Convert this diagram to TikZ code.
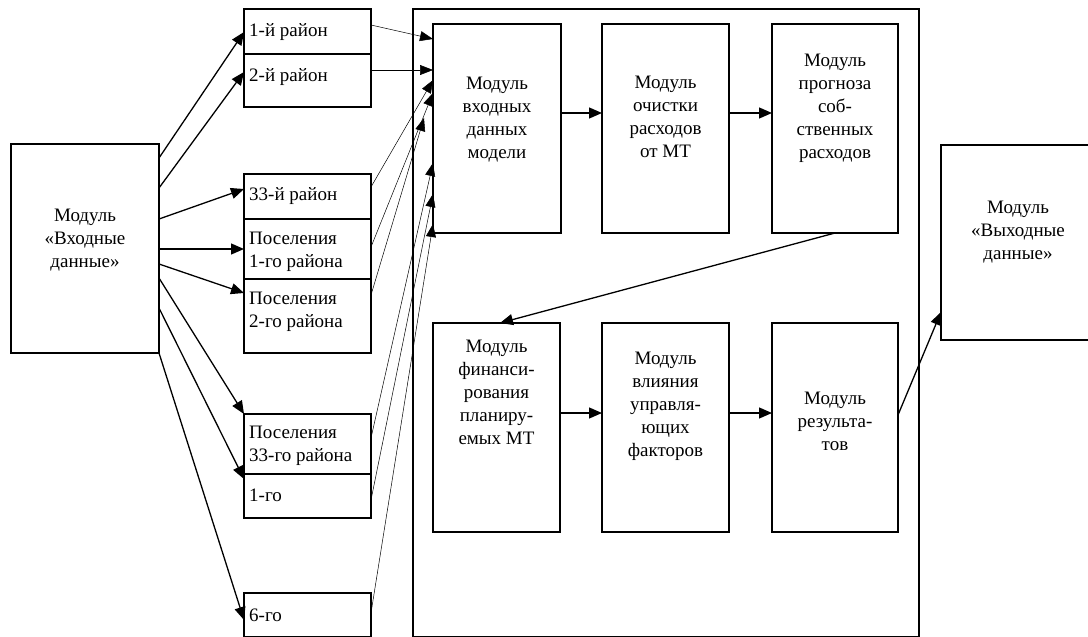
\documentclass[tikz,border=0pt]{standalone}
\usepackage{fontspec}
\setmainfont{Liberation Serif}
\usetikzlibrary{arrows.meta}
\begin{document}
\begin{tikzpicture}[x=1pt,y=-1pt,
  mbox/.style={draw,line width=1.2pt,inner sep=0pt,outer sep=0pt},
  txt/.style={font=\fontsize{19}{23}\selectfont,align=center,inner sep=0pt},
  stxt/.style={font=\fontsize{19}{23}\selectfont,align=left,anchor=west,inner sep=0pt},
  thk/.style={line width=1.3pt,-{Triangle[length=13pt,width=11pt]}},
  thn/.style={line width=0.5pt,-{Triangle[length=13pt,width=10pt]}}]
\useasboundingbox (0,0) rectangle (1088,637);
% left input module
\node[mbox,minimum width=148pt,minimum height=209pt] (L) at (85,248.5) {};
\node[txt] (Lt) at (85,240) {Модуль\\«Входные\\данные»};
% small boxes
\node[mbox,minimum width=127pt,minimum height=45pt] (r1) at (307.5,31.5) {};
\node[mbox,minimum width=127pt,minimum height=53pt] (r2) at (307.5,80.5) {};
\node[mbox,minimum width=127pt,minimum height=45pt] (r33) at (307.5,196.5) {};
\node[mbox,minimum width=127pt,minimum height=60pt] (p1) at (307.5,249) {};
\node[mbox,minimum width=127pt,minimum height=74pt] (p2) at (307.5,316) {};
\node[mbox,minimum width=127pt,minimum height=60pt] (p33) at (307.5,444) {};
\node[mbox,minimum width=127pt,minimum height=44pt] (g1) at (307.5,496) {};
\node[mbox,minimum width=127pt,minimum height=43.5pt] (g6) at (307.5,614.75) {};
\node[stxt] (r1t) at (249,32) {1-й район};
\node[stxt] (r2t) at (249,77) {2-й район};
\node[stxt] (r33t) at (249,196) {33-й район};
\node[stxt] (p1t) at (249,252) {Поселения\\1-го района};
\node[stxt] (p2t) at (249,312) {Поселения\\2-го района};
\node[stxt] (p33t) at (249,446) {Поселения\\33-го района};
\node[stxt] (g1t) at (249,495) {1-го};
\node[stxt] (g6t) at (249,615) {6-го};
% container
\node[mbox,minimum width=506pt,minimum height=627.5pt] (K) at (666,322.75) {};
% inner modules
\node[mbox,minimum width=128pt,minimum height=209pt] (A) at (497,128.5) {};
\node[mbox,minimum width=127pt,minimum height=209pt] (B) at (665.5,128.5) {};
\node[mbox,minimum width=126pt,minimum height=209pt] (C) at (835,128.5) {};
\node[mbox,minimum width=127pt,minimum height=209pt] (D) at (496.5,427.5) {};
\node[mbox,minimum width=127pt,minimum height=209pt] (E) at (665.5,427.5) {};
\node[mbox,minimum width=126pt,minimum height=209pt] (F) at (835,427.5) {};
\node[txt] (At) at (497,120) {Модуль\\входных\\данных\\модели};
\node[txt] (Bt) at (665.5,117) {Модуль\\очистки\\расходов\\от МТ};
\node[txt] (Ct) at (835,108) {Модуль\\прогноза\\соб-\\ственных\\расходов};
\node[txt] (Dt) at (496.5,392) {Модуль\\финанси-\\рования\\планиру-\\емых МТ};
\node[txt] (Et) at (665.5,406) {Модуль\\влияния\\управля-\\ющих\\факторов};
\node[txt] (Ft) at (835,421) {Модуль\\результа-\\тов};
% output module
\node[mbox,minimum width=154pt,minimum height=195pt] (O) at (1018,242.5) {};
\node[txt] (Ot) at (1018,232) {Модуль\\«Выходные\\данные»};
% thick arrows from input module
\draw[thk] (L.east |- 0,158) -- (r1.west |- 0,32);
\draw[thk] (L.east |- 0,188) -- (r2.west |- 0,72);
\draw[thk] (L.east |- 0,219) -- (r33.west |- 0,189);
\draw[thk] (L.east |- 0,249) -- (p1.west |- 0,249);
\draw[thk] (L.east |- 0,264) -- (p2.west |- 0,293);
\draw[thk] (L.east |- 0,278) -- (p33.north west);
\draw[thk] (L.east |- 0,308) -- (g1.west |- 0,479);
\draw[thk] (L.south east) -- (g6.west |- 0,620);
% thin arrows to input data module
\coordinate (p2end) at (424,118);
\draw[thn] (r1.east |- 0,25) -- (A.west |- 0,39);
\draw[thn] (r2.east |- 0,70) -- (A.west |- 0,70);
\draw[thn] (r33.east |- 0,187) -- (A.west |- 0,80);
\draw[thn] (p1.east |- 0,247) -- (A.west |- 0,93);
\draw[thn] (p2.east |- 0,295) -- (p2end);
\draw[thn] (p33.east |- 0,438) -- (A.west |- 0,163);
\draw[thn] (g1.east |- 0,500) -- (A.west |- 0,194);
\draw[thn] (g6.east |- 0,613) -- (A.west |- 0,224);
% inner flow
\draw[thk] (A.east |- 0,113) -- (B.west |- 0,113);
\draw[thk] (B.east |- 0,113) -- (C.west |- 0,113);
\draw[thk] (C.south) -- ([xshift=3.5pt]D.north);
\draw[thk] (D.east |- 0,413) -- (E.west |- 0,413);
\draw[thk] (E.east |- 0,413) -- (F.west |- 0,413);
\draw[thk] (F.east |- 0,415) -- (O.west |- 0,312);
\end{tikzpicture}
\end{document}
